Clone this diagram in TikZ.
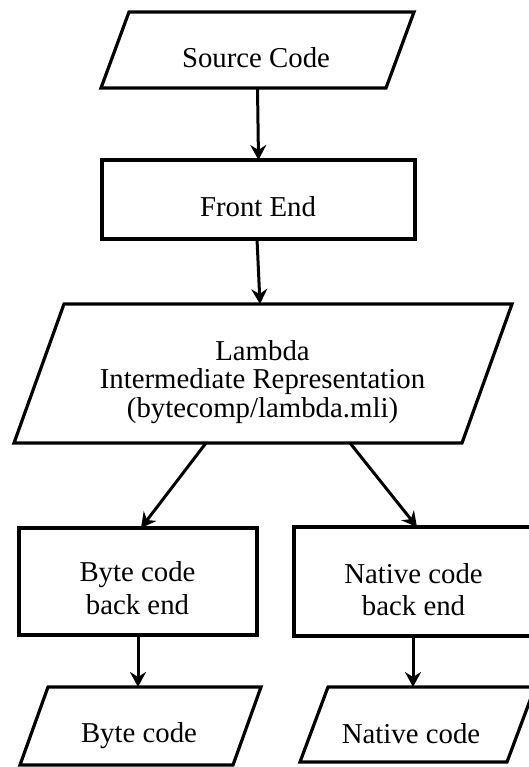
\documentclass[tikz,border=0pt]{standalone}
\usepackage{fontspec}
\setmainfont{Liberation Serif}
\usetikzlibrary{arrows.meta}

% outline of an input/output parallelogram laid over a rectangle node
\newcommand\paraoutline[2]{%
  \draw[outline] ([xshift=#2]#1.north west) -- ([xshift=#2]#1.north east)
    -- ([xshift=-#2]#1.south east) -- ([xshift=-#2]#1.south west) -- cycle;}

\begin{document}
\begin{tikzpicture}[x=1pt, y=-1pt,
  outline/.style={draw=black, line width=3.2pt},
  procbox/.style={rectangle, outline, inner sep=0pt, outer sep=0pt},
  iobox/.style={rectangle, draw=none, inner sep=0pt, outer sep=0pt},
  label/.style={anchor=base, inner sep=0pt, align=center,
    font=\fontsize{28.8pt}{#1}\selectfont},
  label/.default=30pt,
  flow/.style={line width=3pt, -{Stealth[length=15pt, width=16pt, inset=5pt]}}]

\clip (0,0) rectangle (529,767);
\fill[white] (0,0) rectangle (529,767);

% frames
\node[iobox, minimum width=285pt, minimum height=76pt] (src) at (257.5,50) {};
\node[procbox, minimum width=313pt, minimum height=79pt] (front) at (258.5,199.5) {};
\node[iobox, minimum width=448pt, minimum height=139pt] (lam) at (263,373.5) {};
\node[procbox, minimum width=238pt, minimum height=107pt] (byteback) at (138,581.5) {};
\node[procbox, minimum width=238pt, minimum height=109pt] (natback) at (413,581.5) {};
\node[iobox, minimum width=213pt, minimum height=78pt] (bytecode) at (140.5,726) {};
\node[iobox, minimum width=207pt, minimum height=75pt] (natcode) at (417.5,724.5) {};

\paraoutline{src}{14pt}
\paraoutline{lam}{25pt}
\paraoutline{bytecode}{14pt}
\paraoutline{natcode}{14pt}

% texts (multi-line labels sit on the baseline of their last line)
\node[label] (src-t) at (256,68) {Source Code};
\node[label] (front-t) at (258,216.7) {Front End};
\node[label=28.5pt] (lam-t) at (262.5,417) {Lambda\\Intermediate Representation\\(bytecomp/lambda.mli)};
\node[label=33pt] (byteback-t) at (137.5,614.5) {Byte code\\back end};
\node[label=32pt] (natback-t) at (413.5,615) {Native code\\back end};
\node[label] (bytecode-t) at (139,742) {Byte code};
\node[label] (natcode-t) at (411,743) {Native code};

% connectors
\draw[flow] (src.south) -- (front.north);
\draw[flow] ([xshift=-1.5pt]front.south) -- ([xshift=-3pt]lam.north);
\draw[flow] ([xshift=-57pt]lam.south) -- ([xshift=3pt]byteback.north);
\draw[flow] ([xshift=87pt]lam.south) -- ([xshift=4pt]natback.north);
\draw[flow] (byteback.south) -- (byteback.south |- bytecode.north);
\draw[flow] (natback.south) -- (natback.south |- natcode.north);
\end{tikzpicture}
\end{document}
